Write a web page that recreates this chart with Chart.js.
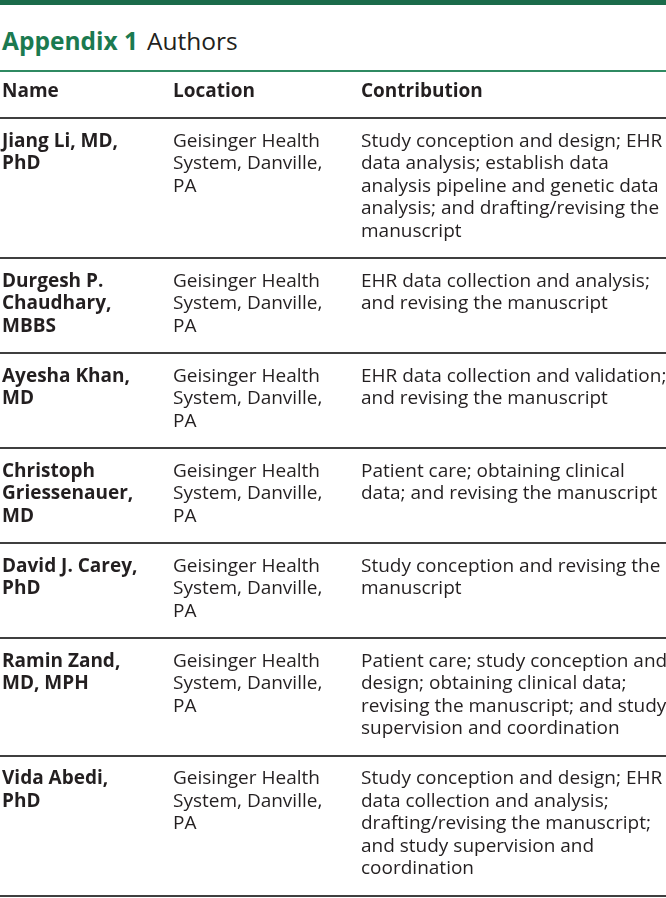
<!DOCTYPE html>
<html lang="en">
<head>
<meta charset="utf-8">
<title>Appendix 1 Authors</title>
<script src="https://cdn.jsdelivr.net/npm/chart.js@4/dist/chart.umd.min.js"></script>
<style>
  html, body { margin: 0; padding: 0; background: #fff; }
  body { width: 666px; height: 898px; position: relative; overflow: hidden; font-family: "Open Sans", sans-serif; }
  #topbar { position: absolute; left: 0; top: 0; width: 666px; height: 5px; background: #1b6b4a; }
  #title { position: absolute; left: 2px; top: 25px; font-size: 24.5px; line-height: 32px; color: #231f20; white-space: nowrap; }
  #title b { color: #1b7a50; font-weight: 700; margin-right: 9px; }
  #wrap { position: absolute; left: 0; top: 60px; width: 666px; height: 838px; }
</style>
</head>
<body>
<div id="topbar"></div>
<div id="title"><b>Appendix 1</b>Authors</div>
<div id="wrap"><canvas id="tableChart"></canvas></div>
<script>
  // table content, one entry per author, cells already broken into lines as printed
  var headers = ["Name", "Location", "Contribution"];

  var names = [
    ["Jiang Li, MD,", "PhD"],
    ["Durgesh P.", "Chaudhary,", "MBBS"],
    ["Ayesha Khan,", "MD"],
    ["Christoph", "Griessenauer,", "MD"],
    ["David J. Carey,", "PhD"],
    ["Ramin Zand,", "MD, MPH"],
    ["Vida Abedi,", "PhD"]
  ];

  var locations = [
    ["Geisinger Health", "System, Danville,", "PA"],
    ["Geisinger Health", "System, Danville,", "PA"],
    ["Geisinger Health", "System, Danville,", "PA"],
    ["Geisinger Health", "System, Danville,", "PA"],
    ["Geisinger Health", "System, Danville,", "PA"],
    ["Geisinger Health", "System, Danville,", "PA"],
    ["Geisinger Health", "System, Danville,", "PA"]
  ];

  var contributions = [
    ["Study conception and design; EHR", "data analysis; establish data", "analysis pipeline and genetic data", "analysis; and drafting/revising the", "manuscript"],
    ["EHR data collection and analysis;", "and revising the manuscript"],
    ["EHR data collection and validation;", "and revising the manuscript"],
    ["Patient care; obtaining clinical", "data; and revising the manuscript"],
    ["Study conception and revising the", "manuscript"],
    ["Patient care; study conception and", "design; obtaining clinical data;", "revising the manuscript; and study", "supervision and coordination"],
    ["Study conception and design; EHR", "data collection and analysis;", "drafting/revising the manuscript;", "and study supervision and", "coordination"]
  ];

  // y axis is measured in text lines
  var headPad = 1.1;
  var rowPad = 1.22;
  var firstLine = 1.02;
  var headLine = 0.93;

  var bounds = [0, 1 + headPad];
  for (var i = 0; i < names.length; i++) {
    var n = Math.max(names[i].length, locations[i].length, contributions[i].length);
    bounds.push(bounds[bounds.length - 1] + n + rowPad);
  }
  var total = bounds[bounds.length - 1];

  var colX = [2, 173, 361];
  var textColor = "#231f20";
  var fontSize = 19;

  var tablePlugin = {
    id: 'tableText',
    afterDraw: function(chart) {
      var ctx = chart.ctx;
      var y = chart.scales.y;
      var x = chart.scales.x;
      ctx.save();
      ctx.fillStyle = textColor;
      ctx.textBaseline = "middle";
      ctx.textAlign = "left";

      ctx.font = "700 " + fontSize + "px 'Open Sans'";
      for (var c = 0; c < headers.length; c++) {
        ctx.fillText(headers[c], x.getPixelForValue(colX[c]), y.getPixelForValue(bounds[0] + headLine));
      }

      for (var r = 0; r < names.length; r++) {
        var cols = [names[r], locations[r], contributions[r]];
        for (var c = 0; c < cols.length; c++) {
          ctx.font = (c == 0 ? "700 " : "400 ") + fontSize + "px 'Open Sans'";
          for (var k = 0; k < cols[c].length; k++) {
            var py = y.getPixelForValue(bounds[r + 1] + firstLine + k);
            ctx.fillText(cols[c][k], x.getPixelForValue(colX[c]), py);
          }
        }
      }
      ctx.restore();
    }
  };

  var chart = new Chart(document.getElementById("tableChart"), {
    type: 'scatter',
    data: { datasets: [{ data: [] }] },
    options: {
      responsive: true,
      maintainAspectRatio: false,
      animation: false,
      events: [],
      layout: { padding: { top: 11, bottom: 2, left: 0, right: 0 } },
      plugins: { legend: { display: false }, tooltip: { enabled: false } },
      scales: {
        x: { type: 'linear', min: 0, max: 666, display: false },
        y: {
          type: 'linear',
          min: 0,
          max: total,
          reverse: true,
          afterBuildTicks: function(scale) {
            scale.ticks = bounds.map(function(v) { return { value: v }; });
          },
          ticks: { display: false },
          border: { display: false },
          grid: {
            drawTicks: false,
            color: function(c) { return c.index == 0 ? "#2f8a62" : "#3f3f3f"; },
            lineWidth: 2
          }
        }
      }
    },
    plugins: [tablePlugin]
  });
</script>
</body>
</html>
